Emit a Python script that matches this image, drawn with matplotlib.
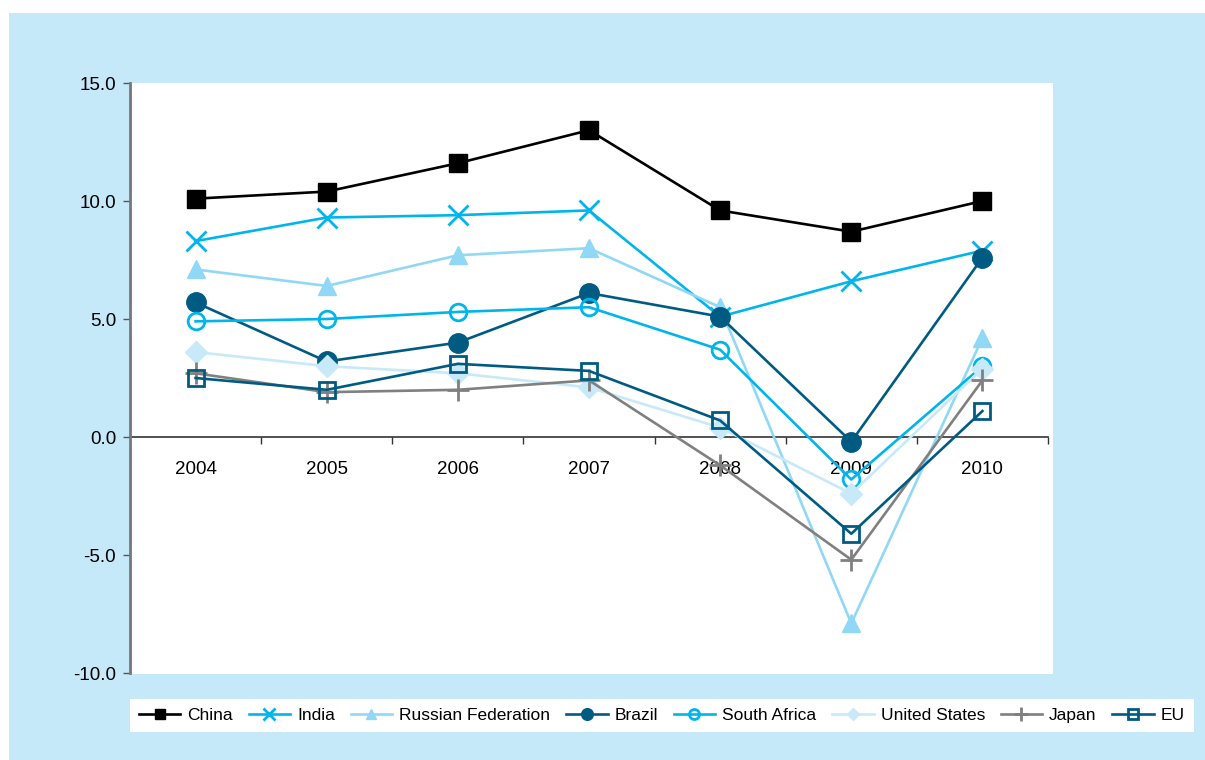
import matplotlib
matplotlib.use("Agg")
import matplotlib.pyplot as plt
from matplotlib import font_manager
from matplotlib.patches import Rectangle
from matplotlib.ticker import FixedLocator, FormatStrFormatter

names = {f.name for f in font_manager.fontManager.ttflist}
fam = "Liberation Sans Narrow" if "Liberation Sans Narrow" in names else "Liberation Sans"
plt.rcParams['font.family'] = [fam, 'DejaVu Sans']

years = ["2004", "2005", "2006", "2007", "2008", "2009", "2010"]
china = [10.1, 10.4, 11.6, 13.0, 9.6, 8.7, 10.0]
india = [8.3, 9.3, 9.4, 9.6, 5.1, 6.6, 7.9]
russia = [7.1, 6.4, 7.7, 8.0, 5.5, -7.9, 4.2]
brazil = [5.7, 3.2, 4.0, 6.1, 5.1, -0.2, 7.6]
south_africa = [4.9, 5.0, 5.3, 5.5, 3.7, -1.8, 3.0]
united_states = [3.6, 3.0, 2.7, 2.1, 0.4, -2.4, 2.9]
japan = [2.7, 1.9, 2.0, 2.4, -1.2, -5.2, 2.4]
eu = [2.5, 2.0, 3.1, 2.8, 0.7, -4.1, 1.1]

W, H = 1205, 760
fig = plt.figure(figsize=(W / 100, H / 100), dpi=100)
fig.patch.set_facecolor("white")
fig.patches.append(Rectangle((9 / W, 0), 1, (H - 13) / H, transform=fig.transFigure,
                             facecolor="#c5e9f8", edgecolor="none", zorder=-10))
fig.patches.append(Rectangle((130 / W, (H - 674) / H), (1053 - 130) / W, (674 - 83) / H,
                             transform=fig.transFigure, facecolor="white", edgecolor="none", zorder=-5))

ax = fig.add_axes([130 / W, (H - 673) / H, (1048 - 130) / W, (673 - 83) / H])
ax.set_facecolor("white")
x = list(range(len(years)))

lw = 1.9
series = [
    ("China", china, dict(color="black", marker="s", ms=13, mfc="black", mec="black")),
    ("India", india, dict(color="#00b5ec", marker="x", ms=14, mew=2.0)),
    ("Russian Federation", russia, dict(color="#91d8f6", marker="^", ms=13)),
    ("Brazil", brazil, dict(color="#005b82", marker="o", ms=14)),
    ("South Africa", south_africa, dict(color="#00b5ec", marker="o", ms=12, mfc="none", mew=2.0)),
    ("United States", united_states, dict(color="#c8e9f8", marker="D", ms=11)),
    ("Japan", japan, dict(color="#808080", marker="+", ms=16, mew=2.0)),
    ("EU", eu, dict(color="#005b82", marker="s", ms=12, mfc="none", mew=2.0)),
]
handles = []
for name, vals, st in series:
    h, = ax.plot(x, vals, lw=lw, label=name, clip_on=False, **st)
    handles.append(h)

ax.set_xlim(-0.5, 6.5)
ax.set_ylim(-10, 15)
ax.yaxis.set_major_locator(FixedLocator([-10, -5, 0, 5, 10, 15]))
ax.yaxis.set_major_formatter(FormatStrFormatter("%.1f"))
ax.tick_params(axis="y", direction="out", length=5, width=1, color="#555555",
               labelsize=13.5, pad=5)
ax.set_xticks(x)
ax.set_xticklabels(years)
ax.set_xticks([i + 0.5 for i in range(7)], minor=True)
ax.tick_params(axis="x", which="major", length=0, labelsize=13.5, pad=17)
ax.tick_params(axis="x", which="minor", direction="out", length=5, width=1, color="#333333")
for s in ["top", "right"]:
    ax.spines[s].set_visible(False)
ax.spines["bottom"].set_position(("data", 0))
ax.spines["bottom"].set_color("#333333")
ax.spines["bottom"].set_linewidth(1.2)
ax.spines["left"].set_color("#777777")
ax.spines["left"].set_linewidth(2)
ax.spines["bottom"].set_zorder(0.5)

leg = fig.legend(handles=handles, loc="upper left", bbox_to_anchor=(130 / W, 1 - 699 / H),
                 ncol=8, frameon=True, fancybox=False, framealpha=1, edgecolor="none",
                 facecolor="white", fontsize=12.5, handlelength=2.4, handletextpad=0.4,
                 columnspacing=0.9, borderpad=0.5, borderaxespad=0, markerscale=0.6)
leg.get_frame().set_linewidth(0)

fig.savefig("out.png", dpi=100, facecolor=fig.get_facecolor())
